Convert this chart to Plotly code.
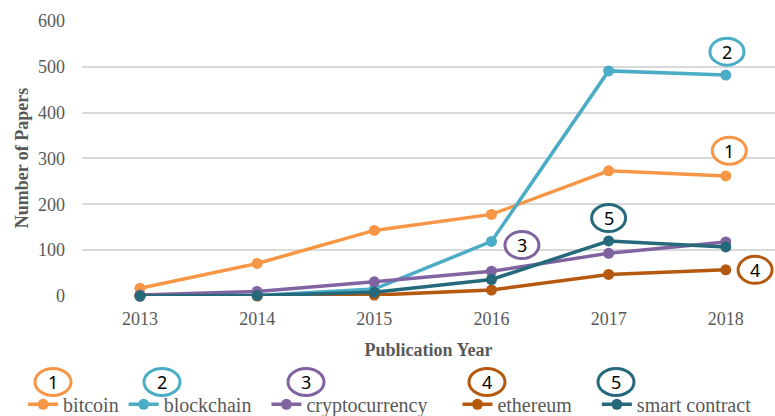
import plotly.graph_objects as go

# Dados
years = [2013, 2014, 2015, 2016, 2017, 2018]
series_names = ['bitcoin', 'blockchain', 'cryptocurrency', 'ethereum', 'smart contract']
bitcoin = [17, 71, 143, 178, 273, 262]
blockchain = [0, 1, 15, 119, 491, 482]
cryptocurrency = [2, 10, 31, 54, 93, 118]
ethereum = [0, 0, 2, 13, 47, 57]
smart_contract = [0, 1, 8, 36, 120, 107]
circle_labels = ['1', '2', '3', '4', '5']

colors = ['#F79646', '#4BACC6', '#8064A2', '#B4590F', '#25697B']
values = [bitcoin, blockchain, cryptocurrency, ethereum, smart_contract]
# espaço extra depois de cada item da legenda (para imitar o espaçamento do original)
legend_pad = [0, 2, 5, 4, 0]

SERIF = 'Liberation Serif'
GREY = '#595959'

fig = go.Figure()

for name, vals, color, pad in zip(series_names, values, colors, legend_pad):
    fig.add_trace(go.Scatter(
        x=years,
        y=vals,
        mode='lines+markers',
        name=name + '\u00a0' * pad,
        line=dict(color=color, width=3.5),
        marker=dict(size=11, color=color),
        cliponaxis=False,
    ))

# Círculos numerados junto às séries (posição em coordenadas de dados)
plot_circles = [
    (2018.03, 317),   # 1 bitcoin
    (2018.01, 533),   # 2 blockchain
    (2016.26, 111),   # 3 cryptocurrency
    (2018.25, 57),    # 4 ethereum
    (2017.0, 170),    # 5 smart contract
]
# Círculos acima da legenda (pixels da janela)
legend_circles_px = [53, 162, 306, 487, 616]
legend_circle_y_px = 382

W, H = 775, 416
L, R, T, B = 82, 0, 20, 120
pw, ph = W - L - R, H - T - B

for lab, (cx, cy), color in zip(circle_labels, plot_circles, colors):
    fig.add_shape(type='circle', xref='x', yref='y',
                  xsizemode='pixel', ysizemode='pixel',
                  xanchor=cx, yanchor=cy,
                  x0=-17, x1=17, y0=-13.5, y1=13.5,
                  line=dict(color=color, width=3), fillcolor='white', layer='above')
    fig.add_annotation(x=cx, y=cy, xref='x', yref='y', text=lab, showarrow=False,
                       xanchor='center', yanchor='middle',
                       font=dict(family='Noto Sans', size=18, color='black'))

for lab, px, color in zip(circle_labels, legend_circles_px, colors):
    ax = (px - L) / pw
    ay = (H - B - legend_circle_y_px) / ph
    fig.add_shape(type='circle', xref='paper', yref='paper',
                  xsizemode='pixel', ysizemode='pixel',
                  xanchor=ax, yanchor=ay,
                  x0=-18, x1=18, y0=-13.5, y1=13.5,
                  line=dict(color=color, width=3), fillcolor='white', layer='above')
    fig.add_annotation(x=ax, y=ay, xref='paper', yref='paper', text=lab, showarrow=False,
                       xanchor='center', yanchor='middle',
                       font=dict(family='Noto Sans', size=18, color='black'))

fig.update_layout(
    width=W,
    height=H,
    margin=dict(l=L, r=R, t=T, b=B, autoexpand=False),
    plot_bgcolor='white',
    paper_bgcolor='white',
    font=dict(family=SERIF, color=GREY),
    showlegend=True,
    legend=dict(
        orientation='h',
        x=-0.085, xanchor='left',
        y=-0.322, yanchor='top',
        bgcolor='rgba(0,0,0,0)',
        font=dict(family=SERIF, size=20, color=GREY),
        itemclick=False,
        tracegroupgap=0,
    ),
    xaxis=dict(
        range=[2012.505, 2018.42],
        tickvals=years,
        ticktext=[str(y) for y in years],
        showgrid=False,
        zeroline=False,
        showline=False,
        automargin=True,
        ticks='',
        ticklabelstandoff=10,
        tickfont=dict(family=SERIF, size=18, color=GREY),
        title=dict(text='<b>Publication Year</b>', standoff=15,
                   font=dict(family=SERIF, size=18, color=GREY)),
    ),
    yaxis=dict(
        range=[0, 602],
        tickvals=[0, 100, 200, 300, 400, 500, 600],
        showgrid=True,
        gridcolor='#D9D9D9',
        gridwidth=1.5,
        zeroline=False,
        showline=False,
        automargin=True,
        ticks='',
        ticklabelstandoff=16,
        tickfont=dict(family=SERIF, size=18, color=GREY),
        title=dict(text='<b>Number of Papers</b>', standoff=4,
                   font=dict(family=SERIF, size=18, color=GREY)),
    ),
)

# a página tem margem de 8px no body; tira-se para alinhar com a janela
fig.write_html('out.html', config={'displayModeBar': False},
               post_script="document.body.style.margin='0px';")
